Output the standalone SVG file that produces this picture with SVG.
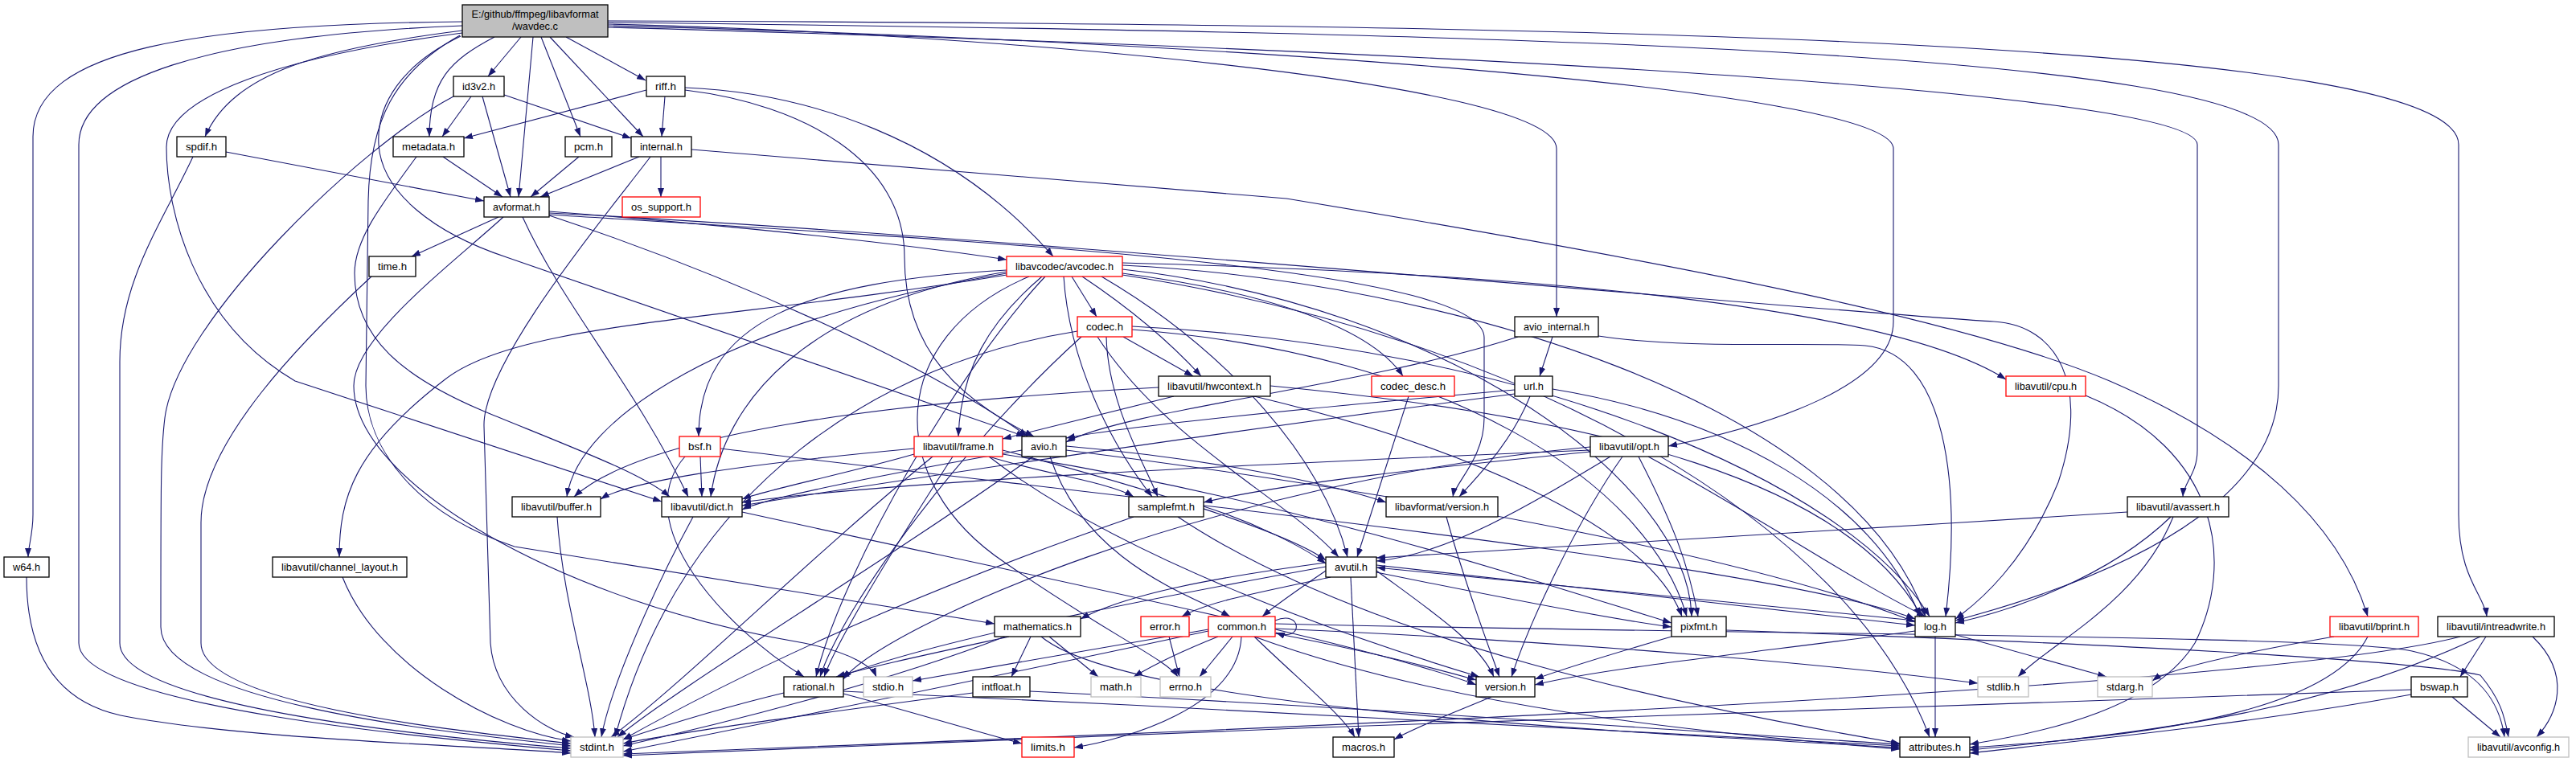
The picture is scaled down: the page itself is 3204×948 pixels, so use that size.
<svg xmlns="http://www.w3.org/2000/svg" width="3204" height="948" viewBox="0 0 3204 948">
<style>
.n{fill:#fff;stroke:#000;stroke-width:1.3}
.r{fill:#fff;stroke:#ff0000;stroke-width:1.3}
.g{fill:#fff;stroke:#bfbfbf;stroke-width:1.3}
.root{fill:#bfbfbf;stroke:#000;stroke-width:1.3}
.t{font-family:"Liberation Sans",Arial,sans-serif;font-size:13px;text-anchor:middle;fill:#000}
.e path{fill:none;stroke:#191970;stroke-width:1.1;marker-end:url(#ah)}
</style>
<defs>
<marker id="ah" viewBox="0 0 11 8" refX="11" refY="4" markerWidth="11" markerHeight="8" markerUnits="userSpaceOnUse" orient="auto"><path d="M0,0 L11,4 L0,8 z" fill="#191970"/></marker>
</defs>
<rect width="3204" height="948" fill="#fff"/>
<g class="e" id="edges">
<path d="M648,46 L607,95"/>
<path d="M615,46 C560,75 534,100 534,170"/>
<path d="M663,46 L645,245"/>
<path d="M673,46 L722,170"/>
<path d="M684,46 L800,170"/>
<path d="M704,46 L803,100"/>
<path d="M575,38 C400,60 290,90 255,170"/>
<path d="M575,27 C250,30 41,60 41,170 L41,640 C41,665 35,680 35,693"/>
<path d="M575,32 C250,45 98,100 98,180 L98,800 C98,880 550,920 710,934"/>
<path d="M575,41 C350,70 207,120 207,183 C207,260 240,400 367,474 L823,624"/>
<path d="M572,44 C490,90 460,150 458,250 L455,480 C455,560 520,640 640,680 L1237,776"/>
<path d="M573,45 C500,80 468,130 471,180 C475,240 540,290 630,320 L1275,543"/>
<path d="M756,30 C1200,40 1936,100 1936,185 L1936,394"/>
<path d="M756,32 C1500,50 2355,110 2355,185 L2355,400 C2355,480 2200,530 2075,555"/>
<path d="M756,34 C1700,60 2733,110 2733,180 L2733,560 C2733,590 2716,600 2715,618"/>
<path d="M756,28 C1800,40 2834,60 2834,180 L2834,480 C2834,600 2700,700 2432,772"/>
<path d="M756,26 C2000,30 3058,50 3058,180 L3058,640 C3058,720 3090,740 3093,767"/>
<path d="M586,120 L550,170"/>
<path d="M600,120 L635,245"/>
<path d="M627,118 L785,172"/>
<path d="M564,120 C450,180 220,400 205,520 C200,560 200,600 200,780 C200,880 600,915 710,928"/>
<path d="M827,120 L823,170"/>
<path d="M804,112 L577,172"/>
<path d="M852,109 C1000,115 1180,170 1310,319"/>
<path d="M852,112 C1000,130 1125,200 1125,320 C1125,440 1200,500 1286,543"/>
<path d="M281,189 L602,250"/>
<path d="M240,195 C200,280 149,350 149,450 L149,800 C149,880 550,918 710,931"/>
<path d="M551,195 L625,245"/>
<path d="M518,195 C470,260 441,300 441,340 C441,420 500,470 610,515 C720,560 800,590 833,618"/>
<path d="M720,195 L660,245"/>
<path d="M795,195 L672,245"/>
<path d="M822,195 L822,245"/>
<path d="M860,186 L1600,247 C2100,330 2450,400 2624,474 C2800,550 2910,650 2945,767"/>
<path d="M809,195 C760,260 600,450 602,530 L610,800 C615,870 680,910 714,917"/>
<path d="M620,270 L512,319"/>
<path d="M683,263 C900,280 1100,300 1252,323"/>
<path d="M650,270 C700,380 790,480 856,618"/>
<path d="M683,268 C900,340 1150,450 1278,543"/>
<path d="M683,265 C1200,290 2300,390 2480,400 C2560,405 2600,480 2560,600 C2520,700 2460,750 2432,770"/>
<path d="M683,267 C1200,300 1846,330 1846,420 L1846,520 C1846,570 1810,600 1807,618"/>
<path d="M626,270 C560,330 440,420 440,480 C440,600 700,750 1000,800 C1060,812 1085,830 1090,842"/>
<path d="M462,344 C380,420 250,550 250,650 L250,800 C250,880 600,912 710,925"/>
<path d="M1333,344 L1364,394"/>
<path d="M1396,340 C1550,360 1700,400 1745,468"/>
<path d="M1252,336 C1000,350 869,400 869,543"/>
<path d="M1296,344 C1230,400 1195,460 1192,543"/>
<path d="M1346,344 C1400,380 1450,420 1494,468"/>
<path d="M1323,344 C1330,450 1380,550 1433,618"/>
<path d="M1252,338 C1000,380 900,500 884,618"/>
<path d="M1252,340 C900,400 720,520 705,618"/>
<path d="M1252,342 C900,400 640,400 551,474 C440,560 422,620 422,693"/>
<path d="M1370,344 C1500,420 1640,550 1676,693"/>
<path d="M1396,330 C1800,350 2300,500 2395,767"/>
<path d="M1396,335 C1800,380 2100,600 2104,767"/>
<path d="M1300,344 C1200,450 1050,700 1015,842"/>
<path d="M1396,342 C1900,420 2300,650 2400,917"/>
<path d="M1396,327 C1900,340 2350,380 2495,472"/>
<path d="M1280,344 C1100,420 1100,600 1250,700 C1380,790 1450,820 1465,842"/>
<path d="M1340,412 C1100,450 850,600 765,917"/>
<path d="M1365,419 C1450,550 1600,620 1665,693"/>
<path d="M1397,419 L1484,468"/>
<path d="M1408,406 C1900,430 2300,600 2400,767"/>
<path d="M1408,410 C1800,440 2050,600 2098,767"/>
<path d="M1345,419 C1200,550 1050,750 1020,842"/>
<path d="M1376,419 C1378,500 1420,570 1440,618"/>
<path d="M1888,419 C1700,480 1400,510 1326,550"/>
<path d="M1931,419 L1915,468"/>
<path d="M1988,418 C2100,435 2250,425 2320,430 C2420,440 2440,600 2420,767"/>
<path d="M1441,482 C1100,500 800,540 714,618"/>
<path d="M1460,493 L1247,546"/>
<path d="M1580,480 C2000,520 2300,600 2390,767"/>
<path d="M1560,493 C1800,550 2050,650 2092,767"/>
<path d="M1752,493 L1688,693"/>
<path d="M1884,485 C1600,510 1400,530 1326,545"/>
<path d="M1903,493 C1880,550 1840,590 1815,618"/>
<path d="M1884,490 C1500,540 1100,600 923,629"/>
<path d="M1931,484 C2150,520 2330,620 2388,767"/>
<path d="M2594,492 C2760,560 2780,700 2730,800 C2680,880 2550,910 2450,926"/>
<path d="M871,568 L873,618"/>
<path d="M852,568 C780,650 900,780 1000,842"/>
<path d="M896,558 C1400,620 2200,700 2382,770"/>
<path d="M1137,558 C900,580 780,600 747,621"/>
<path d="M1137,565 C1050,590 950,610 923,621"/>
<path d="M1247,560 C1400,600 1600,660 1649,697"/>
<path d="M1185,568 C1100,700 1040,800 1025,842"/>
<path d="M1230,568 C1300,590 1380,600 1410,618"/>
<path d="M1247,565 C1600,620 1900,720 2079,775"/>
<path d="M1160,568 C1000,700 850,850 760,917"/>
<path d="M1230,568 C1400,700 1700,800 1840,842"/>
<path d="M1285,568 C1100,700 850,850 768,917"/>
<path d="M1306,568 C1350,700 1480,740 1530,767"/>
<path d="M1271,560 C1100,590 950,620 923,634"/>
<path d="M1326,555 C1500,570 1650,600 1724,625"/>
<path d="M1326,560 C1800,620 2200,700 2382,774"/>
<path d="M1978,556 C1500,600 1100,780 1049,845"/>
<path d="M2003,568 C1900,630 1800,690 1712,698"/>
<path d="M1978,560 C1500,580 1100,600 923,625"/>
<path d="M2050,568 C2200,650 2300,720 2395,767"/>
<path d="M2038,568 C2080,650 2100,700 2112,767"/>
<path d="M1978,562 C1800,580 1600,600 1497,625"/>
<path d="M2018,568 C1960,650 1900,780 1880,842"/>
<path d="M693,643 C700,750 735,850 740,917"/>
<path d="M862,643 C820,720 760,850 748,917"/>
<path d="M923,637 C1300,720 1700,800 1836,852"/>
<path d="M1410,643 C1100,750 900,850 775,920"/>
<path d="M1497,630 C1560,650 1620,680 1649,701"/>
<path d="M1465,643 C1700,800 2100,880 2363,925"/>
<path d="M1799,643 C1820,720 1850,800 1865,842"/>
<path d="M2703,643 C2660,750 2550,800 2510,842"/>
<path d="M2646,637 C2300,660 1900,680 1712,694"/>
<path d="M2700,643 C2620,720 2500,760 2432,775"/>
<path d="M33,718 C33,800 60,870 150,890 C300,920 600,928 710,937"/>
<path d="M426,718 C470,830 620,910 710,922"/>
<path d="M1649,710 C1620,730 1590,750 1570,767"/>
<path d="M1655,718 C1550,740 1500,750 1470,767"/>
<path d="M1649,705 C1400,750 1150,800 1045,842"/>
<path d="M1712,710 C1780,760 1840,800 1858,842"/>
<path d="M1680,718 L1690,917"/>
<path d="M1649,700 C1500,720 1400,740 1344,770"/>
<path d="M1712,703 L2382,778"/>
<path d="M1712,712 C1850,740 2000,770 2079,780"/>
<path d="M1250,792 C1100,850 900,900 775,928"/>
<path d="M1305,792 L1366,842"/>
<path d="M1295,792 C1400,880 2000,910 2363,930"/>
<path d="M1255,792 C1150,815 1080,830 1040,842"/>
<path d="M1282,792 L1258,842"/>
<path d="M1454,792 L1467,842"/>
<path d="M1533,792 L1492,842"/>
<path d="M1544,792 C1540,880 1400,920 1336,930"/>
<path d="M1515,792 C1470,810 1430,830 1410,842"/>
<path d="M1503,785 C1200,850 950,900 775,935"/>
<path d="M1503,783 C1350,810 1200,835 1135,847"/>
<path d="M1586,782 C2000,800 2300,830 2460,850"/>
<path d="M1560,792 C1800,880 2100,910 2363,932"/>
<path d="M1560,792 C1620,850 1670,890 1685,917"/>
<path d="M1586,788 C1700,810 1780,830 1836,846"/>
<path d="M1586,776 C2200,790 2900,790 3000,810 C3090,830 3110,880 3115,917"/>
<path d="M1586,772 C1620,758 1622,800 1587,787"/>
<path d="M2079,792 C2000,815 1950,830 1909,845"/>
<path d="M2147,784 C2600,800 3000,820 3085,840 C3110,870 3115,890 3120,917"/>
<path d="M2430,789 L2620,842"/>
<path d="M2382,772 L1712,706"/>
<path d="M2407,792 L2407,917"/>
<path d="M2382,785 C2200,810 2000,830 1909,852"/>
<path d="M2903,792 C2800,810 2700,830 2677,847"/>
<path d="M2945,792 C2900,880 2700,915 2450,930"/>
<path d="M3060,792 C2800,860 1500,910 775,938"/>
<path d="M3150,792 C3200,840 3180,890 3155,917"/>
<path d="M3085,792 C2900,880 2700,910 2450,933"/>
<path d="M3092,792 L3060,842"/>
<path d="M2999,858 C2500,870 1500,910 775,940"/>
<path d="M3050,867 L3110,917"/>
<path d="M2999,864 C2800,900 2600,920 2450,937"/>
<path d="M975,862 C900,880 820,905 775,920"/>
<path d="M1049,863 C1150,890 1230,915 1271,925"/>
<path d="M1049,860 C1500,880 2000,910 2363,928"/>
<path d="M1210,862 C1000,890 850,910 775,925"/>
<path d="M1281,860 C1700,880 2100,910 2363,926"/>
<path d="M1855,867 C1800,890 1760,905 1734,920"/>
</g>
<g id="nodes">
<g id="n_wavdec"><rect class="root" x="575" y="6" width="181" height="40"/><text class="t" x="665.5" y="22" textLength="158" lengthAdjust="spacingAndGlyphs">E:/github/ffmpeg/libavformat</text><text class="t" x="665.5" y="37" textLength="57" lengthAdjust="spacingAndGlyphs">/wavdec.c</text></g>
<g id="n_id3v2"><rect class="n" x="564" y="95" width="63" height="25"/><text class="t" x="595.5" y="112" textLength="41" lengthAdjust="spacingAndGlyphs">id3v2.h</text></g>
<g id="n_riff"><rect class="n" x="804" y="95" width="48" height="25"/><text class="t" x="828" y="112" textLength="26" lengthAdjust="spacingAndGlyphs">riff.h</text></g>
<g id="n_spdif"><rect class="n" x="220" y="170" width="61" height="25"/><text class="t" x="250.5" y="187" textLength="39" lengthAdjust="spacingAndGlyphs">spdif.h</text></g>
<g id="n_metadata"><rect class="n" x="489" y="170" width="88" height="25"/><text class="t" x="533" y="187" textLength="66" lengthAdjust="spacingAndGlyphs">metadata.h</text></g>
<g id="n_pcm"><rect class="n" x="703" y="170" width="58" height="25"/><text class="t" x="732" y="187" textLength="36" lengthAdjust="spacingAndGlyphs">pcm.h</text></g>
<g id="n_internal"><rect class="n" x="785" y="170" width="75" height="25"/><text class="t" x="822.5" y="187" textLength="53" lengthAdjust="spacingAndGlyphs">internal.h</text></g>
<g id="n_avformat"><rect class="n" x="602" y="245" width="81" height="25"/><text class="t" x="642.5" y="262" textLength="59" lengthAdjust="spacingAndGlyphs">avformat.h</text></g>
<g id="n_os_support"><rect class="r" x="774" y="245" width="97" height="25"/><text class="t" x="822.5" y="262" textLength="75" lengthAdjust="spacingAndGlyphs">os_support.h</text></g>
<g id="n_time"><rect class="n" x="459" y="319" width="58" height="25"/><text class="t" x="488" y="336" textLength="36" lengthAdjust="spacingAndGlyphs">time.h</text></g>
<g id="n_avcodec"><rect class="r" x="1252" y="319" width="144" height="25"/><text class="t" x="1324" y="336" textLength="122" lengthAdjust="spacingAndGlyphs">libavcodec/avcodec.h</text></g>
<g id="n_codec"><rect class="r" x="1340" y="394" width="68" height="25"/><text class="t" x="1374" y="411" textLength="46" lengthAdjust="spacingAndGlyphs">codec.h</text></g>
<g id="n_avio_internal"><rect class="n" x="1884" y="394" width="104" height="25"/><text class="t" x="1936" y="411" textLength="82" lengthAdjust="spacingAndGlyphs">avio_internal.h</text></g>
<g id="n_hwcontext"><rect class="n" x="1441" y="468" width="139" height="25"/><text class="t" x="1510.5" y="485" textLength="117" lengthAdjust="spacingAndGlyphs">libavutil/hwcontext.h</text></g>
<g id="n_codec_desc"><rect class="r" x="1706" y="468" width="103" height="25"/><text class="t" x="1757.5" y="485" textLength="81" lengthAdjust="spacingAndGlyphs">codec_desc.h</text></g>
<g id="n_url"><rect class="n" x="1884" y="468" width="47" height="25"/><text class="t" x="1907.5" y="485" textLength="25" lengthAdjust="spacingAndGlyphs">url.h</text></g>
<g id="n_cpu"><rect class="r" x="2495" y="468" width="99" height="25"/><text class="t" x="2544.5" y="485" textLength="77" lengthAdjust="spacingAndGlyphs">libavutil/cpu.h</text></g>
<g id="n_bsf"><rect class="r" x="845" y="543" width="51" height="25"/><text class="t" x="870.5" y="560" textLength="29" lengthAdjust="spacingAndGlyphs">bsf.h</text></g>
<g id="n_frame"><rect class="r" x="1137" y="543" width="110" height="25"/><text class="t" x="1192" y="560" textLength="88" lengthAdjust="spacingAndGlyphs">libavutil/frame.h</text></g>
<g id="n_avio"><rect class="n" x="1271" y="543" width="55" height="25"/><text class="t" x="1298.5" y="560" textLength="33" lengthAdjust="spacingAndGlyphs">avio.h</text></g>
<g id="n_opt"><rect class="n" x="1978" y="543" width="97" height="25"/><text class="t" x="2026.5" y="560" textLength="75" lengthAdjust="spacingAndGlyphs">libavutil/opt.h</text></g>
<g id="n_buffer"><rect class="n" x="637" y="618" width="110" height="25"/><text class="t" x="692" y="635" textLength="88" lengthAdjust="spacingAndGlyphs">libavutil/buffer.h</text></g>
<g id="n_dict"><rect class="n" x="823" y="618" width="100" height="25"/><text class="t" x="873" y="635" textLength="78" lengthAdjust="spacingAndGlyphs">libavutil/dict.h</text></g>
<g id="n_samplefmt"><rect class="n" x="1404" y="618" width="93" height="25"/><text class="t" x="1450.5" y="635" textLength="71" lengthAdjust="spacingAndGlyphs">samplefmt.h</text></g>
<g id="n_lavf_version"><rect class="n" x="1724" y="618" width="139" height="25"/><text class="t" x="1793.5" y="635" textLength="117" lengthAdjust="spacingAndGlyphs">libavformat/version.h</text></g>
<g id="n_avassert"><rect class="n" x="2646" y="618" width="126" height="25"/><text class="t" x="2709" y="635" textLength="104" lengthAdjust="spacingAndGlyphs">libavutil/avassert.h</text></g>
<g id="n_w64"><rect class="n" x="5" y="693" width="56" height="25"/><text class="t" x="33" y="710" textLength="34" lengthAdjust="spacingAndGlyphs">w64.h</text></g>
<g id="n_channel_layout"><rect class="n" x="339" y="693" width="167" height="25"/><text class="t" x="422.5" y="710" textLength="145" lengthAdjust="spacingAndGlyphs">libavutil/channel_layout.h</text></g>
<g id="n_avutil"><rect class="n" x="1649" y="693" width="63" height="25"/><text class="t" x="1680.5" y="710" textLength="41" lengthAdjust="spacingAndGlyphs">avutil.h</text></g>
<g id="n_mathematics"><rect class="n" x="1237" y="767" width="107" height="25"/><text class="t" x="1290.5" y="784" textLength="85" lengthAdjust="spacingAndGlyphs">mathematics.h</text></g>
<g id="n_error"><rect class="r" x="1419" y="767" width="60" height="25"/><text class="t" x="1449" y="784" textLength="38" lengthAdjust="spacingAndGlyphs">error.h</text></g>
<g id="n_common"><rect class="r" x="1503" y="767" width="83" height="25"/><text class="t" x="1544.5" y="784" textLength="61" lengthAdjust="spacingAndGlyphs">common.h</text></g>
<g id="n_pixfmt"><rect class="n" x="2079" y="767" width="68" height="25"/><text class="t" x="2113" y="784" textLength="46" lengthAdjust="spacingAndGlyphs">pixfmt.h</text></g>
<g id="n_log"><rect class="n" x="2382" y="767" width="50" height="25"/><text class="t" x="2407" y="784" textLength="28" lengthAdjust="spacingAndGlyphs">log.h</text></g>
<g id="n_bprint"><rect class="r" x="2898" y="767" width="110" height="25"/><text class="t" x="2953" y="784" textLength="88" lengthAdjust="spacingAndGlyphs">libavutil/bprint.h</text></g>
<g id="n_intreadwrite"><rect class="n" x="3032" y="767" width="145" height="25"/><text class="t" x="3104.5" y="784" textLength="123" lengthAdjust="spacingAndGlyphs">libavutil/intreadwrite.h</text></g>
<g id="n_rational"><rect class="n" x="975" y="842" width="74" height="25"/><text class="t" x="1012" y="859" textLength="52" lengthAdjust="spacingAndGlyphs">rational.h</text></g>
<g id="n_stdio"><rect class="g" x="1074" y="842" width="61" height="25"/><text class="t" x="1104.5" y="859" textLength="39" lengthAdjust="spacingAndGlyphs">stdio.h</text></g>
<g id="n_intfloat"><rect class="n" x="1210" y="842" width="71" height="25"/><text class="t" x="1245.5" y="859" textLength="49" lengthAdjust="spacingAndGlyphs">intfloat.h</text></g>
<g id="n_math"><rect class="g" x="1357" y="842" width="62" height="25"/><text class="t" x="1388" y="859" textLength="40" lengthAdjust="spacingAndGlyphs">math.h</text></g>
<g id="n_errno"><rect class="g" x="1443" y="842" width="63" height="25"/><text class="t" x="1474.5" y="859" textLength="41" lengthAdjust="spacingAndGlyphs">errno.h</text></g>
<g id="n_version"><rect class="n" x="1836" y="842" width="73" height="25"/><text class="t" x="1872.5" y="859" textLength="51" lengthAdjust="spacingAndGlyphs">version.h</text></g>
<g id="n_stdlib"><rect class="g" x="2460" y="842" width="63" height="25"/><text class="t" x="2491.5" y="859" textLength="41" lengthAdjust="spacingAndGlyphs">stdlib.h</text></g>
<g id="n_stdarg"><rect class="g" x="2609" y="842" width="68" height="25"/><text class="t" x="2643" y="859" textLength="46" lengthAdjust="spacingAndGlyphs">stdarg.h</text></g>
<g id="n_bswap"><rect class="n" x="2999" y="842" width="70" height="25"/><text class="t" x="3034" y="859" textLength="48" lengthAdjust="spacingAndGlyphs">bswap.h</text></g>
<g id="n_stdint"><rect class="g" x="710" y="917" width="65" height="25"/><text class="t" x="742.5" y="934" textLength="43" lengthAdjust="spacingAndGlyphs">stdint.h</text></g>
<g id="n_limits"><rect class="r" x="1271" y="917" width="65" height="25"/><text class="t" x="1303.5" y="934" textLength="43" lengthAdjust="spacingAndGlyphs">limits.h</text></g>
<g id="n_macros"><rect class="n" x="1658" y="917" width="76" height="25"/><text class="t" x="1696" y="934" textLength="54" lengthAdjust="spacingAndGlyphs">macros.h</text></g>
<g id="n_attributes"><rect class="n" x="2363" y="917" width="87" height="25"/><text class="t" x="2406.5" y="934" textLength="65" lengthAdjust="spacingAndGlyphs">attributes.h</text></g>
<g id="n_avconfig"><rect class="g" x="3070" y="917" width="125" height="25"/><text class="t" x="3132.5" y="934" textLength="103" lengthAdjust="spacingAndGlyphs">libavutil/avconfig.h</text></g>
</g>
</svg>
